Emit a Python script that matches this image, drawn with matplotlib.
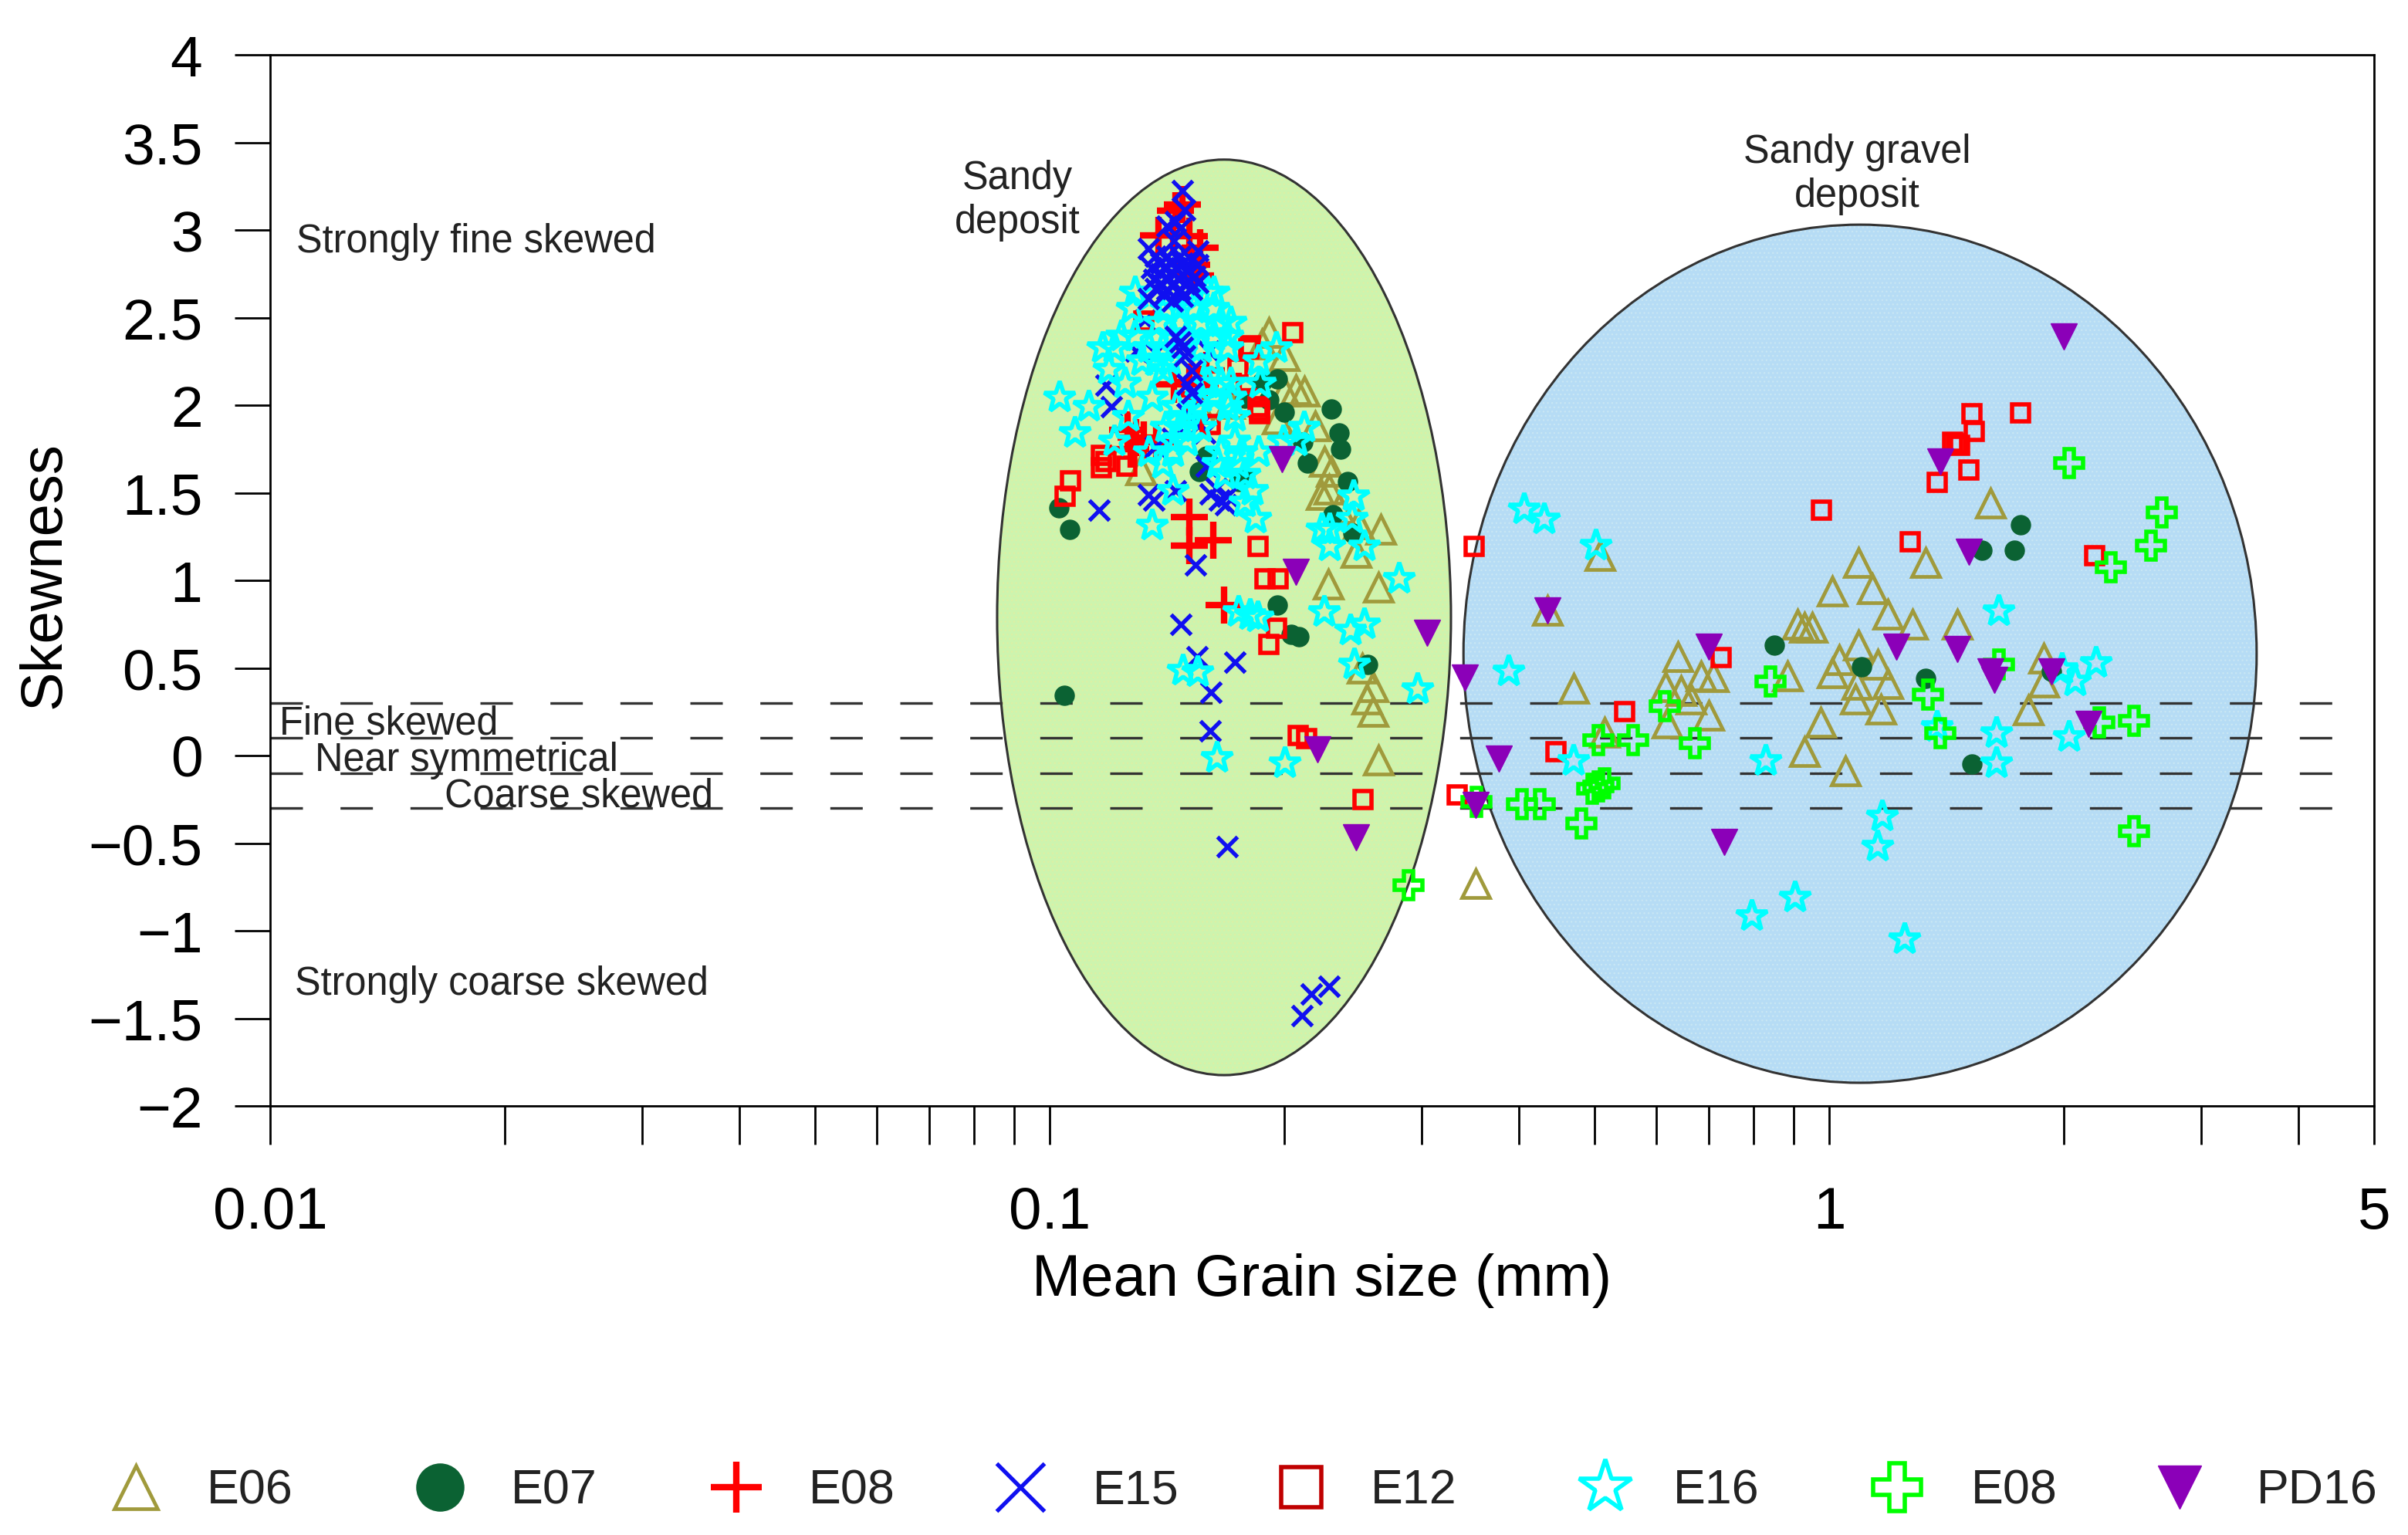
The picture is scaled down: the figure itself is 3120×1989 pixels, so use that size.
# Skewness vs mean grain size scatter with the two deposit ellipses

import matplotlib
matplotlib.use('Agg')
import matplotlib.pyplot as plt
from matplotlib.patches import Ellipse
from matplotlib.lines import Line2D

plt.rcParams['font.family'] = ['Liberation Sans', 'DejaVu Sans']
plt.rcParams['hatch.linewidth'] = 0.5

# (mean grain size mm, skewness)
e06 = [(1.61,1.44),(1.09,1.10),(1.33,1.10),(1.01,.94),(1.135,.95),(1.19,.805),(1.28,.75),(1.46,.75),
       (.91,.75),(.93,.73),(.95,.73),(.64,.565),(.685,.455),(.71,.45),(.47,.385),(.617,.39),(.645,.37),
       (.665,.32),(.885,.455),(1.09,.63),(1.03,.545),(1.01,.47),(1.155,.52),(1.085,.405),(1.19,.41),
       (1.08,.32),(1.165,.265),(.975,.19),(.93,.02),(1.05,-.09),(1.885,.555),(1.885,.42),(1.8,.26),
       (.70,.23),(.62,.185),(.515,.13),(.508,1.14),(.435,.83),(.352,-.73),
       (.191,2.415),(.20,2.28),(.187,2.35),(.212,2.08),(.207,2.09),(.20,2.08),(.196,1.92),(.219,1.88),
       (.225,1.68),(.23,1.62),(.228,1.52),(.223,1.49),(.235,1.41),(.249,1.32),(.266,1.29),(.247,1.16),
       (.131,1.63),(.156,1.98),(.17,2.01),(.2275,.98),(.264,.96),(.252,.50),(.26,.39),(.255,.32),
       (.26,.25),(.264,-.025)]
e07 = [(.196,2.15),(.187,2.13),(.191,2.03),(.178,2.04),(.20,1.96),(.23,1.98),(.235,1.84),(.236,1.75),
       (.211,1.79),(.214,1.67),(.178,1.59),(.175,1.565),(.1555,1.62),(.159,1.71),(.241,1.565),
       (.231,1.375),(.245,1.27),(.1028,1.415),(.106,1.29),(.196,.86),(.204,.69),(.209,.68),(.256,.52),
       (.1045,.345),(.85,.63),(1.10,.505),(1.33,.44),(1.525,-.05),(1.76,1.315),(1.73,1.17),(1.57,1.17),
       (1.93,.48)]
e08_plus = [(.148,3.145),(.145,3.11),(.138,2.97),(.144,2.97),(.151,2.965),(.156,2.90),(.152,2.80),
            (.154,2.74),(.159,2.20),(.151,2.13),(.156,2.12),(.1445,2.12),(.151,2.06),(.175,2.08),
            (.129,1.815),(.126,1.86),(.132,1.80),(.127,1.75),(.137,1.79),(.151,1.36),(.151,1.20),
            (.162,1.23),(.1675,.86)]
e15 = [(.1325,2.485),(.129,2.31),(.1365,2.30),(.16,2.31),(.118,2.115),
       (.12,1.99),(.156,1.89),(.158,1.84),(.1437,1.81),(.15,1.95),(.1365,1.76),(.159,1.65),(.165,1.46),
       (.1605,1.495),(.169,1.48),(.1635,1.525),(.168,1.43),(.136,1.46),(.134,1.49),(.1157,1.40),(.145,1.51),
       (.154,1.09),(.1475,.75),(.1545,.565),(.173,.535),(.161,.36),(.1605,.14),(.169,-.52),(.2285,-1.317),
       (.2165,-1.36),(.2105,-1.485)]
# the part of E15 that sits on top of the stars
e15_top = [(.148,3.225),(.149,3.115),(.145,3.05),(.1415,3.02),(.147,3.01),(.134,2.895),(.1445,2.94),(.155,2.88),
           (.1365,2.85),(.1415,2.85),(.147,2.85),(.152,2.83),(.155,2.80),(.135,2.785),(.14,2.785),(.145,2.785),
           (.15,2.77),(.1535,2.735),(.136,2.72),(.141,2.72),(.1465,2.72),(.151,2.705),(.155,2.70),(.1365,2.665),
           (.1415,2.66),(.147,2.66),(.152,2.66),(.134,2.61),(.1437,2.595),(.139,2.81),(.143,2.81),(.148,2.81),
           (.139,2.75),(.144,2.75),(.148,2.75),(.139,2.69),(.144,2.69),(.149,2.69),(.14,2.63),(.148,2.62),
           (.145,2.39),(.148,2.33),(.149,2.28),(.147,2.36),(.152,2.20),(.15,2.12),(.152,2.07)]
e12 = [(.205,2.415),(.18,2.32),(.181,2.34),(.1745,2.21),(.186,1.97),(.186,1.95),(.185,1.99),(.1605,1.89),
       (.132,2.48),(.1165,1.715),(.1165,1.645),(.1255,1.65),(.118,1.68),(.1064,1.57),(.1046,1.48),(.185,1.195),
       (.189,1.007),(.1965,1.007),(.1955,.726),(.191,.634),(.2085,.113),(.2135,.099),(.2525,-.25),(.3335,-.226),
       (.35,1.195),(.977,1.40),(1.455,1.78),(1.47,1.77),(1.44,1.79),(1.525,1.95),(1.535,1.85),(1.76,1.955),
       (1.51,1.63),(1.375,1.56),(1.27,1.22),(2.19,1.14),(.727,.56),(.547,.25),(.446,.02)]
e16 = [(.1288,2.643),(.1594,2.643),(.1626,2.643),(.1275,2.549),(.1411,2.549),(.147,2.549),(.153,2.549),(.1626,2.549),
       (.1383,2.47),(.147,2.47),(.1562,2.47),(.166,2.47),(.171,2.47),(.1237,2.391),(.1288,2.391),(.144,2.391),
       (.15,2.391),(.1626,2.391),(.1694,2.391),(.1169,2.328),(.1212,2.328),(.1341,2.328),(.1397,2.328),(.1562,2.328),
       (.1694,2.328),(.1955,2.328),(.1315,2.25),(.1369,2.25),(.1426,2.25),(.161,2.25),(.1855,2.25),(.1193,2.202),
       (.1397,2.202),(.1249,2.124),(.166,2.124),(.1594,2.124),(.171,2.124),(.1865,2.124),(.103,2.045),(.1355,2.045),
       (.1626,2.045),(.1562,2.045),(.171,2.045),(.1122,1.99),(.1455,1.99),(.1547,1.99),(.1694,1.99),(.1262,1.935),
       (.15,1.935),(.173,1.935),(.1411,1.872),(.147,1.872),(.1562,1.872),(.212,1.872),(.1078,1.84),(.1212,1.793),
       (.144,1.793),(.15,1.793),(.173,1.793),(.1995,1.793),(.2075,1.793),(.1341,1.73),(.144,1.73),(.166,1.73),
       (.1764,1.73),(.1855,1.73),(.1397,1.667),(.1643,1.667),(.1746,1.667),(.1676,1.605),(.178,1.605),(.182,1.51),
       (.144,1.51),(.2455,1.48),(.178,1.447),(.184,1.353),(.2445,1.353),(.1355,1.313),(.2235,1.29),(.229,1.29),
       (.229,1.195),(.2537,1.195),
       (.175,.82),(.181,.80),(.185,.79),(.2252,.82),(.2431,.712),(.2537,.75),(.281,1.007),(.246,.52),(.2966,.378),
       (.1485,.486),(.155,.476),(.164,-.015),(.2005,-.045),
       (.4065,1.404),(.431,1.346),(.502,1.20),(.388,.48),(1.65,.823),(1.99,.494),(2.07,.425),(2.2,.53),(1.64,.127),
       (1.375,.165),(2.03,.107),(1.64,-.045),(.83,-.03),(.47,-.03),(1.17,-.346),(1.155,-.518),(.905,-.81),
       (.796,-.915),(1.25,-1.05)]
e08_open = [(2.03,1.67),(2.67,1.386),(2.59,1.197),(2.3,1.075),(.84,.425),(.615,.28),(1.65,.52),(1.34,.347),
            (1.39,.127),(2.22,.19),(2.46,.198),(.506,.09),(.56,.09),(.673,.07),(.506,-.176),(.515,-.16),
            (.497,-.19),(.404,-.277),(.425,-.277),(.481,-.386),(2.46,-.43),(.353,-.265),(.2887,-.739)]
pd16 = [(2.0,2.39),(1.39,1.68),(1.51,1.164),(.435,.83),(.70,.62),(1.22,.62),(1.46,.607),(1.61,.48),(1.63,.43),
        (1.93,.48),(.341,.443),(2.15,.18),(.377,-.017),(.352,-.283),(.733,-.493),(.207,1.047),(.3052,.70),
        (.2208,.034),(.247,-.468),(.1987,1.69)]

skew_limits = [0.3, 0.1, -0.1, -0.3]
y_ticks = [-2, -1.5, -1, -0.5, 0, 0.5, 1, 1.5, 2, 2.5, 3, 3.5, 4]
y_labels = ['\u22122', '\u22121.5', '\u22121', '\u22120.5', '0', '0.5', '1', '1.5', '2', '2.5', '3', '3.5', '4']
x_ticks = [0.01, 0.1, 1, 5]
x_labels = ['0.01', '0.1', '1', '5']
x_minor = [0.02, 0.03, 0.04, 0.05, 0.06, 0.07, 0.08, 0.09, 0.2, 0.3, 0.4, 0.5, 0.6, 0.7, 0.8, 0.9, 2, 3, 4]
legend_names = ['E06', 'E07', 'E08', 'E15', 'E12', 'E16', 'E08', 'PD16']

# marker style for each series, in legend order
styles = [
    dict(marker='^', ms=13, mfc='none', mec='#A09A3C', mew=1.7),
    dict(marker='o', ms=9, mfc='#0B6233', mec='#0B6233', mew=0.5),
    dict(marker='+', ms=17, mfc='none', mec='#FF0000', mew=3),
    dict(marker='x', ms=9.5, mfc='none', mec='#1010F0', mew=1.9),
    dict(marker='s', ms=8, mfc='none', mec='#FF0000', mew=2),
    dict(marker='*', ms=15, mfc='none', mec='#00FFFF', mew=2),
    dict(marker='P', ms=13, mfc='none', mec='#00FF00', mew=2),
    dict(marker='v', ms=12, mfc='#8B00B8', mec='#8B00B8', mew=0.5),
]
series = [e06, e07, e08_plus, e15, e12, e16, e08_open, pd16]


def main():
    fig = plt.figure(figsize=(15.6, 9.95), dpi=200)
    ax = fig.add_axes([350 / 3120, 1 - 1434 / 1990, 2726 / 3120, 1362 / 1990])

    green = ((0.4534, 0.4648), 0.2157, 0.871)
    blue = ((0.7557, 0.4302), 0.377, 0.8164)
    ax.add_patch(Ellipse(*green, transform=ax.transAxes, fc='#CDF4AE', ec='none', zorder=1))
    ax.add_patch(Ellipse(*green, transform=ax.transAxes, fc='none', ec='#DDF0A4', lw=0, hatch='......', zorder=1))
    ax.add_patch(Ellipse(*green, transform=ax.transAxes, fc='none', ec='#333333', lw=1.1, zorder=1))
    ax.add_patch(Ellipse(*blue, transform=ax.transAxes, fc='#B6DCF5', ec='none', zorder=1))
    ax.add_patch(Ellipse(*blue, transform=ax.transAxes, fc='none', ec='#C8E6F4', lw=0, hatch='......', zorder=1))
    ax.add_patch(Ellipse(*blue, transform=ax.transAxes, fc='none', ec='#333333', lw=1.1, zorder=1))

    for level in skew_limits:
        ax.plot([0.01, 4.5], [level, level], color='#333333', lw=1.2,
                dashes=(12.6, 14.6), dash_capstyle='butt', zorder=2)

    for pts, style in zip(series, styles):
        xs = [p[0] for p in pts]
        ys = [p[1] for p in pts]
        ax.plot(xs, ys, ls='none', zorder=3, **style)
    ax.plot([p[0] for p in e15_top], [p[1] for p in e15_top], ls='none', zorder=4, **styles[3])

    ax.set_xscale('log')
    ax.set_xlim(0.01, 5)
    ax.set_ylim(-2, 4)
    ax.set_yticks(y_ticks, y_labels)
    ax.set_xticks(x_ticks, x_labels)
    ax.set_xticks(x_minor, minor=True)
    ax.tick_params(axis='x', which='minor', labelbottom=False)
    ax.tick_params(axis='x', which='both', length=18, width=1, pad=19, labelsize=27.5)
    ax.tick_params(axis='y', which='major', length=16.5, width=1, pad=15, labelsize=27)
    for spine in ax.spines.values():
        spine.set_linewidth(1)

    ax.set_xlabel('Mean Grain size (mm)', fontsize=27.3, labelpad=6)
    ax.set_ylabel('Skewness', fontsize=27.3)
    ax.yaxis.set_label_coords(-0.094, 0.506)

    # region labels, positions in the 1560 wide frame of the picture
    notes = [('Strongly fine skewed', 192, 157, 'left'), ('Strongly coarse skewed', 191, 638, 'left'),
             ('Fine skewed', 181, 469, 'left'), ('Near symmetrical', 204, 493, 'left'),
             ('Coarse skewed', 288, 516, 'left'), ('Sandy\ndeposit', 659, 130, 'center'),
             ('Sandy gravel\ndeposit', 1203, 113, 'center')]
    for text, px, py, ha in notes:
        fig.text(px / 1560, 1 - py / 995, text, fontsize=18.2, ha=ha, va='center', color='#222222',
                 linespacing=1.2, zorder=5)

    # legend row, spaced by hand like the original
    mark_x = [88, 285, 477, 661, 843, 1040, 1229, 1412]
    name_x = [134, 331, 524, 708, 888, 1084, 1277, 1462]
    mark_sizes = [20, 22, 24, 22, 19, 26, 22, 20]
    for name, mx, nx, size, style in zip(legend_names, mark_x, name_x, mark_sizes, styles):
        st = dict(style)
        st['ms'] = size
        if name == 'E12':
            st['mec'] = '#C00000'
        fig.add_artist(Line2D([mx / 1560], [1 - 964 / 995], transform=fig.transFigure, ls='none', **st))
        fig.text(nx / 1560, 1 - 966 / 995, name, fontsize=22.6, ha='left', va='center', color='#222222')

    fig.savefig('out.png', dpi=200)


if __name__ == "__main__":
    main()
